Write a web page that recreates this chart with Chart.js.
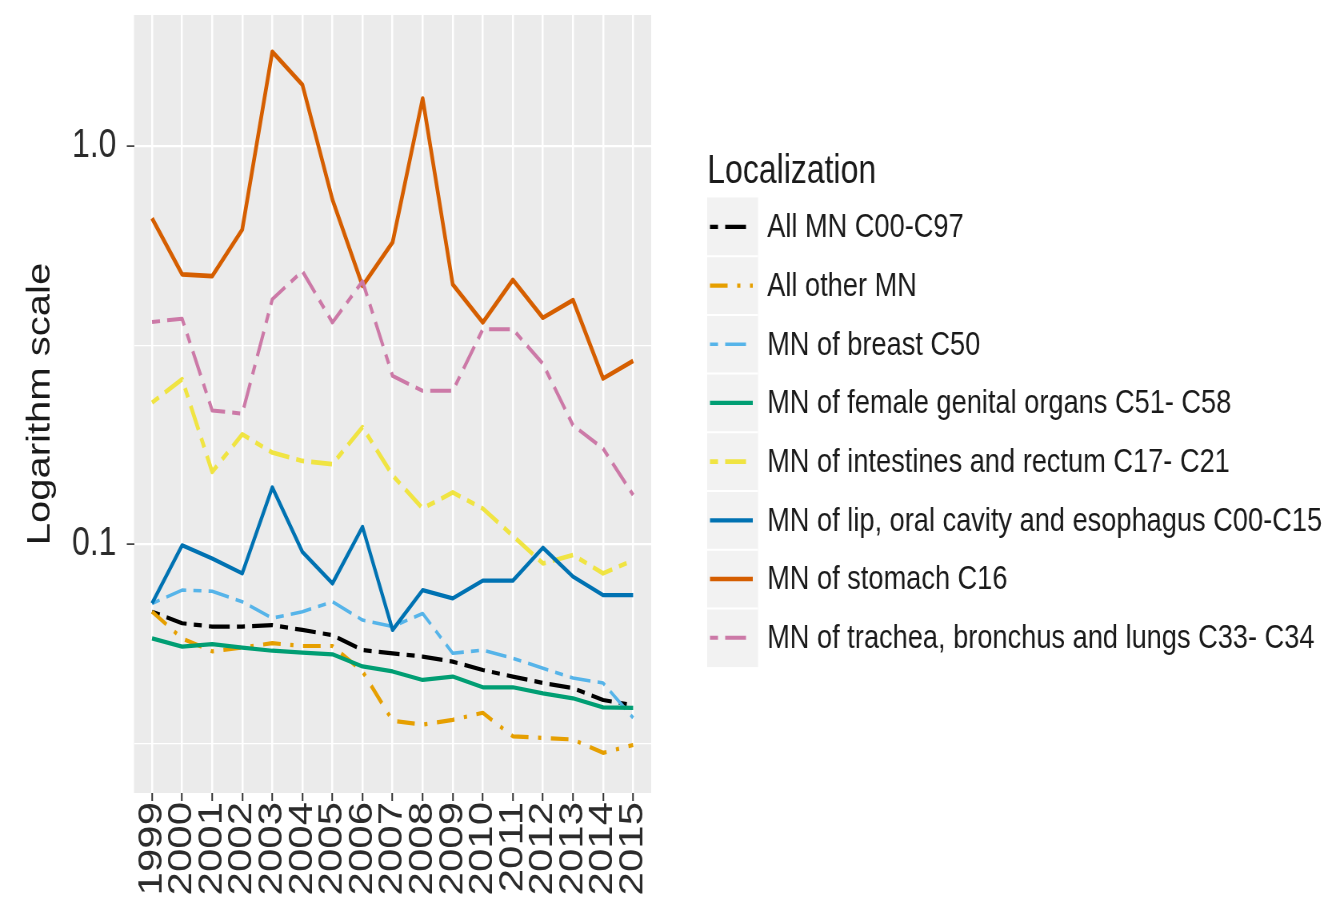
<!DOCTYPE html>
<html>
<head>
<meta charset="utf-8">
<script src="https://cdn.jsdelivr.net/npm/chart.js@4.4.1/dist/chart.umd.min.js"></script>
<style>
  html, body { margin: 0; padding: 0; background: #ffffff; overflow: hidden; }
  #wrap { position: relative; width: 1339px; height: 901px; overflow: hidden; }
  #chart { position: absolute; left: 0; top: 0; transform-origin: 0 0; }
</style>
</head>
<body>
<div id="wrap"><canvas id="chart"></canvas></div>
<script>
// ---- data ----------------------------------------------------------------
const years = ['1999', '2000', '2001', '2002', '2003', '2004', '2005', '2006', '2007',
               '2008', '2009', '2010', '2011', '2012', '2013', '2014', '2015'];

const seriesNames = [
  'All MN C00-C97',
  'All other MN',
  'MN of breast C50',
  'MN of female genital organs C51- C58',
  'MN of intestines and rectum C17- C21',
  'MN of lip, oral cavity and esophagus C00-C15',
  'MN of stomach C16',
  'MN of trachea, bronchus and lungs C33- C34'
];

const allMN         = [0.0677, 0.0633, 0.0621, 0.0621, 0.0626, 0.0609, 0.0591, 0.0542, 0.0532, 0.0522, 0.0507, 0.0483, 0.0465, 0.0448, 0.0435, 0.0406, 0.0394];
const allOtherMN    = [0.0677, 0.0580, 0.0538, 0.0550, 0.0564, 0.0555, 0.0555, 0.0479, 0.0360, 0.0352, 0.0362, 0.0377, 0.0329, 0.0326, 0.0323, 0.0299, 0.0313];
const breast        = [0.0710, 0.0767, 0.0762, 0.0717, 0.0652, 0.0677, 0.0717, 0.0645, 0.0621, 0.0670, 0.0532, 0.0542, 0.0517, 0.0488, 0.0461, 0.0448, 0.0366];
const femaleGenital = [0.0580, 0.0553, 0.0561, 0.0550, 0.0540, 0.0534, 0.0529, 0.0493, 0.0479, 0.0456, 0.0465, 0.0437, 0.0437, 0.0422, 0.0410, 0.0389, 0.0388];
const intestines    = [0.227, 0.260, 0.152, 0.189, 0.170, 0.162, 0.159, 0.197, 0.149, 0.123, 0.135, 0.123, 0.105, 0.0895, 0.094, 0.0845, 0.0912];
const lipOral       = [0.0710, 0.0994, 0.0921, 0.0845, 0.139, 0.0957, 0.0797, 0.1106, 0.0609, 0.0767, 0.0731, 0.0810, 0.0810, 0.0980, 0.0829, 0.0745, 0.0745];
const stomach       = [0.660, 0.477, 0.472, 0.618, 1.73, 1.43, 0.735, 0.446, 0.574, 1.32, 0.450, 0.361, 0.462, 0.371, 0.411, 0.261, 0.289];
const trachea       = [0.362, 0.369, 0.217, 0.213, 0.413, 0.486, 0.361, 0.458, 0.265, 0.243, 0.243, 0.347, 0.347, 0.284, 0.199, 0.174, 0.133];

// y breaks: major at decades, minor half-way (in log terms) between them
const yBreaks     = [0.0316, 0.1, 0.316, 1.0];
const yTickLabels = ['', '0.1', '', '1.0'];
const yAxisTitle  = 'Logarithm scale';
const legendTitle = 'Localization';

// ---- styling ---------------------------------------------------------------
const SX = 0.8;                         // horizontal squeeze of the whole drawing
const W = Math.round(1339 / SX);
const H = 901;
const FONT = '"Liberation Sans", Arial, Helvetica, sans-serif';

const twodash = [10, 9, 26, 9];
const dotdash = [22, 12, 4, 12];
const seriesValues = [allMN, allOtherMN, breast, femaleGenital, intestines, lipOral, stomach, trachea];
const seriesStyle = [
  { color: '#000000', dash: twodash, width: 4.2 },
  { color: '#E69F00', dash: dotdash, width: 4.2 },
  { color: '#56B4E9', dash: twodash, width: 3.6 },
  { color: '#009E73', dash: [],      width: 4.2 },
  { color: '#F0E442', dash: twodash, width: 4.6 },
  { color: '#0072B2', dash: [],      width: 4.2 },
  { color: '#D55E00', dash: [],      width: 4.6 },
  { color: '#CC79A7', dash: twodash, width: 4.0 }
];

const canvas = document.getElementById('chart');
canvas.width = W;
canvas.height = H;
canvas.style.width = W + 'px';
canvas.style.height = H + 'px';
canvas.style.transform = 'scaleX(' + SX + ')';

const datasets = seriesValues.map((vals, i) => ({
  label: seriesNames[i],
  data: vals.map((v, k) => ({ x: k, y: v })),
  borderColor: seriesStyle[i].color,
  backgroundColor: seriesStyle[i].color,
  borderDash: seriesStyle[i].dash,
  borderWidth: seriesStyle[i].width,
  borderCapStyle: 'butt',
  borderJoinStyle: 'round',
  pointRadius: 0,
  tension: 0,
  fill: false,
  order: seriesValues.length - i   // later series sit on top
}));

// grey plotting panel
const panelBackground = {
  id: 'panelBackground',
  beforeDraw(chart) {
    const { ctx, chartArea: a } = chart;
    ctx.save();
    ctx.fillStyle = '#EBEBEB';
    ctx.fillRect(a.left, a.top, a.right - a.left, a.bottom - a.top);
    ctx.restore();
  }
};

// legend at the right: title, grey key column, line samples, labels
const sideLegend = {
  id: 'sideLegend',
  afterDraw(chart) {
    const ctx = chart.ctx;
    const keyLeft = 884, keyRight = 947.5;
    const lineLeft = 887.5, lineRight = 941;
    const textX = 959;
    const rowTop = 197.5, rowH = 58.7;
    ctx.save();
    ctx.fillStyle = '#1a1a1a';
    ctx.font = '40px ' + FONT;
    ctx.textAlign = 'left';
    ctx.textBaseline = 'alphabetic';
    ctx.fillText(legendTitle, 884, 183);

    const n = seriesNames.length;
    ctx.fillStyle = '#F2F2F2';
    ctx.fillRect(keyLeft, rowTop, keyRight - keyLeft, rowH * n);
    ctx.strokeStyle = '#ffffff';
    ctx.lineWidth = 2;
    for (let i = 1; i < n; i++) {
      ctx.beginPath();
      ctx.moveTo(keyLeft, rowTop + rowH * i);
      ctx.lineTo(keyRight, rowTop + rowH * i);
      ctx.stroke();
    }
    for (let i = 0; i < n; i++) {
      const cy = rowTop + rowH * i + rowH / 2;
      ctx.strokeStyle = seriesStyle[i].color;
      ctx.lineWidth = seriesStyle[i].width;
      ctx.lineCap = 'butt';
      ctx.setLineDash(seriesStyle[i].dash);
      ctx.beginPath();
      ctx.moveTo(lineLeft, cy);
      ctx.lineTo(lineRight, cy);
      ctx.stroke();
      ctx.setLineDash([]);
      ctx.fillStyle = '#1a1a1a';
      ctx.font = '34px ' + FONT;
      ctx.textBaseline = 'middle';
      ctx.fillText(seriesNames[i], textX, cy + 1);
    }
    ctx.restore();
  }
};

const isMajor = v => Math.abs(Math.log10(v) - Math.round(Math.log10(v))) < 1e-6;

new Chart(canvas, {
  type: 'line',
  data: { datasets },
  plugins: [panelBackground, sideLegend],
  options: {
    responsive: false,
    animation: false,
    devicePixelRatio: 1,
    layout: { padding: { top: 15, right: W - 814, bottom: 0, left: 0 } },
    plugins: { legend: { display: false }, tooltip: { enabled: false } },
    scales: {
      x: {
        type: 'linear',
        min: -0.6,
        max: years.length - 1 + 0.6,
        afterBuildTicks: s => { s.ticks = years.map((_, i) => ({ value: i })); },
        afterFit: s => {
          s.height = H - 793;
          s.paddingLeft = 0; s.paddingRight = 0; s.paddingTop = 0; s.paddingBottom = 0;
        },
        border: { display: false },
        grid: {
          color: '#ffffff',
          lineWidth: 2.5,
          drawTicks: true,
          tickLength: 8,
          tickWidth: 2,
          tickColor: '#333333'
        },
        ticks: {
          autoSkip: false,
          minRotation: 90,
          maxRotation: 90,
          padding: 1,
          color: '#2b2b2b',
          font: { family: FONT, size: 42 },
          callback: v => years[v] ?? ''
        }
      },
      y: {
        type: 'logarithmic',
        min: 0.0237,
        max: 2.14,
        afterBuildTicks: s => { s.ticks = yBreaks.map(v => ({ value: v })); },
        afterFit: s => {
          s.width = 167.5;
          s.paddingTop = 0; s.paddingBottom = 0; s.paddingLeft = 0; s.paddingRight = 0;
        },
        border: { display: false },
        grid: {
          color: '#ffffff',
          lineWidth: c => (c.tick && isMajor(c.tick.value)) ? 2.2 : 1.2,
          drawTicks: true,
          tickLength: 9,
          tickWidth: 1.6,
          tickColor: c => (c.tick && isMajor(c.tick.value)) ? '#333333' : 'rgba(0,0,0,0)'
        },
        ticks: {
          padding: 13,
          color: '#2b2b2b',
          font: { family: FONT, size: 40 },
          callback: v => {
            const k = yBreaks.findIndex(b => Math.abs(b - v) < 1e-9);
            return k >= 0 ? yTickLabels[k] : '';
          }
        },
        title: {
          display: true,
          text: yAxisTitle,
          color: '#1a1a1a',
          font: { family: FONT, size: 40 },
          padding: { top: 27, bottom: 0 }
        }
      }
    }
  }
});
</script>
</body>
</html>
